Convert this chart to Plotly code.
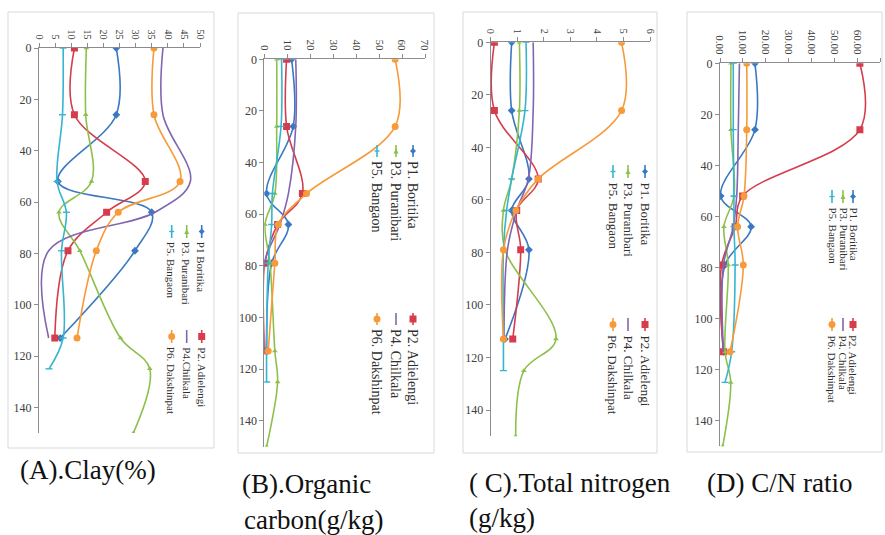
import plotly.graph_objects as go

W, H = 885, 535

# ---------------- data ----------------
names = ["P1 Boritika", "P2 Adielengi", "P3 Puranibari", "P4 Chilkala", "P5 Bangaon", "P6 Dakshinpat"]
colors = ["#3a78c3", "#d63c4c", "#8dc04b", "#8066b0", "#35b5cf", "#f79a3a"]

depth_std = [0, 26, 52, 64, 79, 113]
depth_p3 = [0, 26, 52, 64, 79, 113, 125, 150]
depth_p5 = [0, 26, 52, 64, 79, 113, 125]
depths = [depth_std, depth_std, depth_p3, depth_std, depth_p5, depth_std]

clay = [
    [24, 24, 5.9, 35, 29.8, 6.6],
    [11, 11, 33, 21, 9, 4.9],
    [14.7, 14.5, 16.3, 6.2, 12.7, 25.3, 34.4, 29.3],
    [38.5, 38.5, 47, 36, 3.0, 3],
    [7.5, 7.3, 5.6, 8.5, 7, 7.5, 3.1],
    [35.7, 35.7, 43.8, 24.6, 17.8, 11.8],
]
oc = [
    [11.9, 12.6, 1.0, 10.5, 3.2, 1.0],
    [9.7, 9.7, 16.6, 5.8, 0.3, 0.3],
    [5.4, 5.4, 4.6, 0.3, 2.5, 4.6, 5.8, 1.0],
    [13.7, 13.7, 10.5, 6.8, 0.0, 0.0],
    [7.5, 7.3, 3.5, 3.2, 1.7, 1.0, 1.0],
    [57, 57, 18.4, 6.1, 4.6, 1.7],
]
tn = [
    [0.79, 0.79, 1.44, 0.79, 1.44, 0.54],
    [0.14, 0.14, 1.79, 0.98, 1.13, 0.83],
    [1.08, 1.08, 0.79, 0.48, 0.54, 2.46, 1.25, 0.94],
    [1.6, 1.6, 1.42, 0.98, 0.63, 0.5],
    [1.33, 1.29, 0.79, 0.6, 0.48, 0.48, 0.48],
    [4.93, 4.93, 1.79, 0.95, 0.48, 0.48],
]
cn = [
    [15.3, 15.3, 0.3, 13.6, 2.2, 1.5],
    [61.2, 61.2, 9.9, 6.6, 0.7, 1.5],
    [4.8, 4.8, 6.1, 1.7, 3.6, 2.2, 4.7, 1.2],
    [8.5, 8.0, 7.3, 5.8, 1.5, 1.5],
    [5.8, 5.8, 6.1, 6.1, 6.6, 5.1, 2.2],
    [11.7, 11.7, 10.5, 7.7, 10.2, 4.4],
]
panels_data = [clay, oc, tn, cn]

x_ranges = [[0, 50], [0, 70], [0, 6], [0, 70]]
x_dticks = [5, 10, 1, 10]
x_formats = ["", "", "", ".2f"]
x_fontsizes = [10, 11, 10, 11]
depth_ticks = [0, 20, 40, 60, 80, 100, 120, 140]

titles = [["(A).Clay(%)"], ["(B).Organic", "carbon(g/kg)"], ["( C).Total nitrogen", "(g/kg)"], ["(D) C/N ratio"]]
legend_labels = [
    ["P1 Boritika", "P3. Puranibari", "P5. Bangaon", "P2. Adielengi", "P4.Chilkala", "P6. Dakshinpat"],
    ["P1. Boritika", "P3. Puranibari", "P5. Bangaon", "P2. Adielengi", "P4. Chilkala", "P6. Dakshinpat"],
    ["P1. Boritika", "P3. Puranibari", "P5. Bangaon", "P2. Adielengi", "P4. Chilkala", "P6. Dakshinpat"],
    ["P1. Boritika", "P3. Puranibari", "P5. Bangaon", "P2. Adielengi", "P4. Chilkala", "P6. Dakshinpat"],
]
legend_series = [0, 2, 4, 1, 3, 5]

# ---------------- layout geometry (pixels) ----------------
plot_px = [  # x0, x1, ytop (depth 0), ybottom (depth 150)
    (39, 200, 48, 433),
    (264.3, 425, 59.3, 446.5),
    (490.7, 650, 42.3, 436.3),
    (720, 880, 63.3, 446.2),
]
boxes_px = [(8, 12, 214, 448), (238, 13, 434, 453), (463, 12, 657, 453), (687, 12, 882, 452)]
legend_cols = [(201.7, 186.7, 171.7), (413, 396, 377), (645, 628, 613), (853, 843, 832)]
legend_rows = [(225, 330), (145, 313), (165, 318), (190, 318)]
legend_font = [11, 14, 13, 11]
title_pos = [[(18, 470)], [(240, 484), (242, 520)], [(467, 483), (467, 518)], [(705, 483)]]

markers = [
    dict(symbol="diamond", size=6),
    dict(symbol="square", size=7),
    dict(symbol="triangle-up", size=5),
    None,
    dict(symbol="line-ew", size=5),
    dict(symbol="circle", size=7),
]

SERIF = "Liberation Serif"


def px_x(x):
    return x / W


def px_y(y):
    return 1 - y / H


fig = go.Figure()
shapes = []
annotations = []

for p in range(4):
    sfx = "" if p == 0 else str(p + 1)
    xa, ya = "x" + sfx, "y" + sfx
    data = panels_data[p]
    for s in range(6):
        mk = markers[s]
        mode = "lines+markers" if mk else "lines"
        tr = dict(
            x=data[s], y=depths[s], mode=mode, xaxis=xa, yaxis=ya,
            line=dict(color=colors[s], width=1.6, shape="spline", smoothing=1.0),
            name=names[s], showlegend=False, hoverinfo="skip",
        )
        if mk:
            m = dict(color=colors[s], **mk)
            if mk["symbol"].startswith("line"):
                m["line"] = dict(color=colors[s], width=1.4)
            tr["marker"] = m
        fig.add_trace(go.Scatter(**tr))

    x0, x1, yt, yb = plot_px[p]
    fig.update_layout(**{
        "xaxis" + sfx: dict(
            domain=[px_x(x0), px_x(x1)], range=x_ranges[p], dtick=x_dticks[p], tick0=0,
            side="top", anchor=ya, showline=True, linecolor="#8c8c8c", linewidth=1,
            ticks="outside", ticklen=4, tickcolor="#8c8c8c", tickangle=90,
            tickformat=x_formats[p], showgrid=False, zeroline=False, automargin=False,
            tickfont=dict(family=SERIF, size=x_fontsizes[p], color="#404040"),
            fixedrange=True,
        ),
        "yaxis" + sfx: dict(
            domain=[px_y(yb), px_y(yt)], range=[150, 0], tickvals=depth_ticks,
            anchor=xa, showline=True, linecolor="#8c8c8c", linewidth=1, automargin=False,
            ticks="outside", ticklen=4, tickcolor="#8c8c8c", showgrid=False, zeroline=False,
            tickfont=dict(family=SERIF, size=12, color="#404040"), fixedrange=True,
        ),
    })

    # outer panel box
    bx0, by0, bx1, by1 = boxes_px[p]
    shapes.append(dict(type="rect", xref="paper", yref="paper",
                       x0=px_x(bx0), x1=px_x(bx1), y0=px_y(by1), y1=px_y(by0),
                       line=dict(color="#d9d9d9", width=1), fillcolor="rgba(0,0,0,0)"))

    # rotated legend
    for i, s in enumerate(legend_series):
        col = legend_cols[p][i % 3]
        row_y = legend_rows[p][i // 3]
        klen = 13 if p != 1 else 12
        shapes.append(dict(type="line", xref="paper", yref="paper",
                           x0=px_x(col), x1=px_x(col), y0=px_y(row_y), y1=px_y(row_y + klen),
                           line=dict(color=colors[s], width=1.6)))
        mk = markers[s]
        cy = row_y + klen / 2
        if mk:
            r = mk["size"] / 2
            sym = mk["symbol"]
            if sym == "circle":
                shapes.append(dict(type="circle", xref="paper", yref="paper",
                                   x0=px_x(col - r), x1=px_x(col + r), y0=px_y(cy + r), y1=px_y(cy - r),
                                   fillcolor=colors[s], line=dict(width=0)))
            elif sym == "square":
                shapes.append(dict(type="rect", xref="paper", yref="paper",
                                   x0=px_x(col - r), x1=px_x(col + r), y0=px_y(cy + r), y1=px_y(cy - r),
                                   fillcolor=colors[s], line=dict(width=0)))
            elif sym == "diamond":
                path = "M {} {} L {} {} L {} {} L {} {} Z".format(
                    px_x(col), px_y(cy - r), px_x(col + r), px_y(cy), px_x(col), px_y(cy + r), px_x(col - r), px_y(cy))
                shapes.append(dict(type="path", xref="paper", yref="paper", path=path,
                                   fillcolor=colors[s], line=dict(width=0)))
            elif sym == "triangle-up":
                path = "M {} {} L {} {} L {} {} Z".format(
                    px_x(col), px_y(cy - r), px_x(col + r), px_y(cy + r), px_x(col - r), px_y(cy + r))
                shapes.append(dict(type="path", xref="paper", yref="paper", path=path,
                                   fillcolor=colors[s], line=dict(width=0)))
            elif sym == "line-ew":
                shapes.append(dict(type="line", xref="paper", yref="paper",
                                   x0=px_x(col - r), x1=px_x(col + r), y0=px_y(cy), y1=px_y(cy),
                                   line=dict(color=colors[s], width=1.4)))
        annotations.append(dict(
            text=legend_labels[p][i], xref="paper", yref="paper",
            x=px_x(col), y=px_y(row_y + klen + 2), xanchor="center", yanchor="top",
            textangle=90, showarrow=False,
            font=dict(family=SERIF, size=legend_font[p], color="#303030"),
        ))

    # panel captions
    for line_txt, (tx, ty) in zip(titles[p], title_pos[p]):
        annotations.append(dict(
            text=line_txt, xref="paper", yref="paper", x=px_x(tx), y=px_y(ty),
            xanchor="left", yanchor="middle", showarrow=False,
            font=dict(family=SERIF, size=27, color="#111111"),
        ))

fig.update_layout(
    width=W, height=H, margin=dict(l=0, r=0, t=0, b=0, autoexpand=False),
    paper_bgcolor="white", plot_bgcolor="white",
    shapes=shapes, annotations=annotations, showlegend=False,
)

fig.write_html(
    "out.html",
    config={"displayModeBar": False},
    post_script="document.body.style.margin='0';document.body.style.overflow='hidden';",
)
